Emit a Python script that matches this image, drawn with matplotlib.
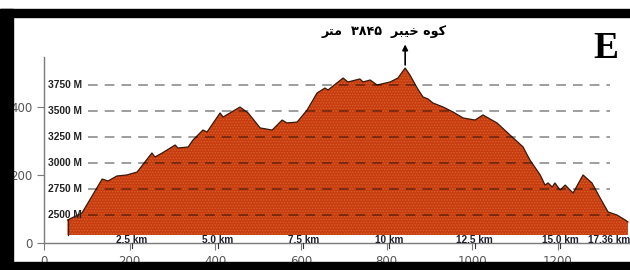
import matplotlib
matplotlib.use("Agg")
import matplotlib.pyplot as plt
from matplotlib.patches import Rectangle

# ---- data ----
dist_km = [0.62, 1.04, 1.63, 1.80, 2.06, 2.35, 2.65, 3.08, 3.17, 3.38, 3.76, 3.84,
           4.14, 4.28, 4.57, 4.69, 5.07, 5.16, 5.65, 5.89, 6.24, 6.59, 6.88, 7.02,
           7.32, 7.61, 7.90, 8.13, 8.22, 8.66, 8.80, 9.15, 9.24, 9.45, 9.65, 10.03,
           10.26, 10.47, 10.61, 10.82, 10.99, 11.14, 11.28, 11.58, 11.87, 12.16,
           12.51, 12.74, 13.15, 13.53, 13.91, 14.11, 14.41, 14.55, 14.64, 14.76,
           14.84, 14.99, 15.14, 15.28, 15.37, 15.66, 15.92, 16.16, 16.39, 16.65,
           16.89, 16.97]
elev_m = [2452, 2519, 2846, 2827, 2875, 2885, 2913, 3096, 3058, 3096, 3173, 3144,
          3154, 3221, 3317, 3298, 3481, 3442, 3538, 3481, 3337, 3317, 3413, 3385,
          3394, 3510, 3673, 3721, 3702, 3817, 3779, 3808, 3779, 3798, 3750, 3779,
          3817, 3913, 3846, 3721, 3635, 3615, 3577, 3538, 3490, 3433, 3413, 3462,
          3385, 3269, 3154, 3029, 2885, 2788, 2808, 2769, 2808, 2740, 2788, 2740,
          2712, 2885, 2808, 2663, 2529, 2500, 2452, 2433]
base_m = 2308

levels_m = [2500, 2750, 3000, 3250, 3500, 3750]
level_labels = ["2500 M", "2750 M", "3000 M", "3250 M", "3500 M", "3750 M"]

km_ticks = [2.5, 5.0, 7.5, 10.0, 12.5, 15.0]
km_labels = ["2.5 km", "5.0 km", "7.5 km", "10 km", "12.5 km", "15.0 km"]
end_label = "17.36 km"

peak_km = 10.47
peak_m = 3913
# "کوه خیبر ۳۸۴۵ متر" written with Arabic presentation forms in display order
peak_label = "\uFEAE\uFE98\uFEE3  \u06F3\u06F8\u06F4\u06F5  \uFEAE\uFE92\uFBFF\uFEA7 \uFEE9\uFEEE\uFB90"

x_ticks = [0, 200, 400, 600, 800, 1000, 1200]
y_ticks = [0, 200, 400]

# ---- figure ----
W, H = 630, 270
fig = plt.figure(figsize=(W / 100, H / 100), dpi=100)
fig.patch.set_facecolor("white")

pos = [44 / W, 27 / H, 586 / W, 186 / H]
ax = fig.add_axes(pos)
ax.set_xlim(0, 1368)
ax.set_ylim(0, 547)
ax.set_xticks(x_ticks)
ax.set_yticks(y_ticks)
for s in ("top", "right"):
    ax.spines[s].set_visible(False)
for s in ("left", "bottom"):
    ax.spines[s].set_color("#7a7a7a")
    ax.spines[s].set_linewidth(1.0)
ax.tick_params(colors="#7a7a7a", labelcolor="#555555", labelsize=8.5, length=5)
ax.patch.set_alpha(0)

# overlay axes in km / metres
ax2 = fig.add_axes(pos, zorder=2)
ax2.set_xlim(-0.067, 17.03)
ax2.set_ylim(2230.8, 4019.2)
ax2.set_axis_off()

plt.rcParams["hatch.linewidth"] = 0.6
ax2.fill_between(dist_km, elev_m, base_m, facecolor="#c83d10", edgecolor="#d8622f",
                 hatch="......", linewidth=0, zorder=1)
ax2.plot(dist_km, elev_m, color="#3a180a", lw=0.9, zorder=3)
ax2.plot([dist_km[0], dist_km[0]], [base_m, elev_m[0]], color="#3a180a", lw=0.9, zorder=3)

for lv, lab in zip(levels_m, level_labels):
    ax2.plot([1.22, 16.45], [lv, lv], color="black", alpha=0.38, lw=1.4,
             dashes=(5.0, 3.6), zorder=4)
    ax2.text(0.05, lv, lab, ha="left", va="center", fontsize=7.4, fontweight="heavy",
             family="Liberation Sans", color="#222222", zorder=5)

for k, lab in zip(km_ticks, km_labels):
    ax2.text(k, 2233, lab, ha="center", va="baseline", fontsize=7.2, fontweight="bold",
             family="Liberation Sans", color="#1e1e2e", zorder=5, clip_on=False)
    ax2.plot([k, k], [2231, 2183], color="#333333", lw=0.8, clip_on=False, zorder=5)
ax2.text(17.03, 2233, end_label, ha="right", va="baseline", fontsize=7.2,
         fontweight="bold", family="Liberation Sans", color="#1e1e2e", zorder=5,
         clip_on=False)

ax2.annotate("", xy=(peak_km, peak_m + 30), xytext=(peak_km, 4140),
             arrowprops=dict(arrowstyle="<|-", color="black", lw=1.2,
                             mutation_scale=8, shrinkA=0, shrinkB=0),
             annotation_clip=False)
ax2.text(9.86, 4260, peak_label, ha="center", va="center", fontsize=9.2,
         fontweight="bold", family="DejaVu Sans", color="black", clip_on=False)

# letter E
fig.text(606 / W, 1 - 58 / H, "E", ha="center", va="baseline", fontsize=27,
         fontweight="bold", family="Liberation Serif", color="black")

# black frame bands
fig.add_artist(Rectangle((0, 1 - 17 / H), 1, 8 / H, transform=fig.transFigure,
                         color="black", zorder=10))
fig.add_artist(Rectangle((0, 0), 13 / W, 1 - 9 / H, transform=fig.transFigure,
                         color="black", zorder=10))
fig.add_artist(Rectangle((0, 0), 1, 8 / H, transform=fig.transFigure,
                         color="black", zorder=10))

fig.savefig("out.png", dpi=100)
